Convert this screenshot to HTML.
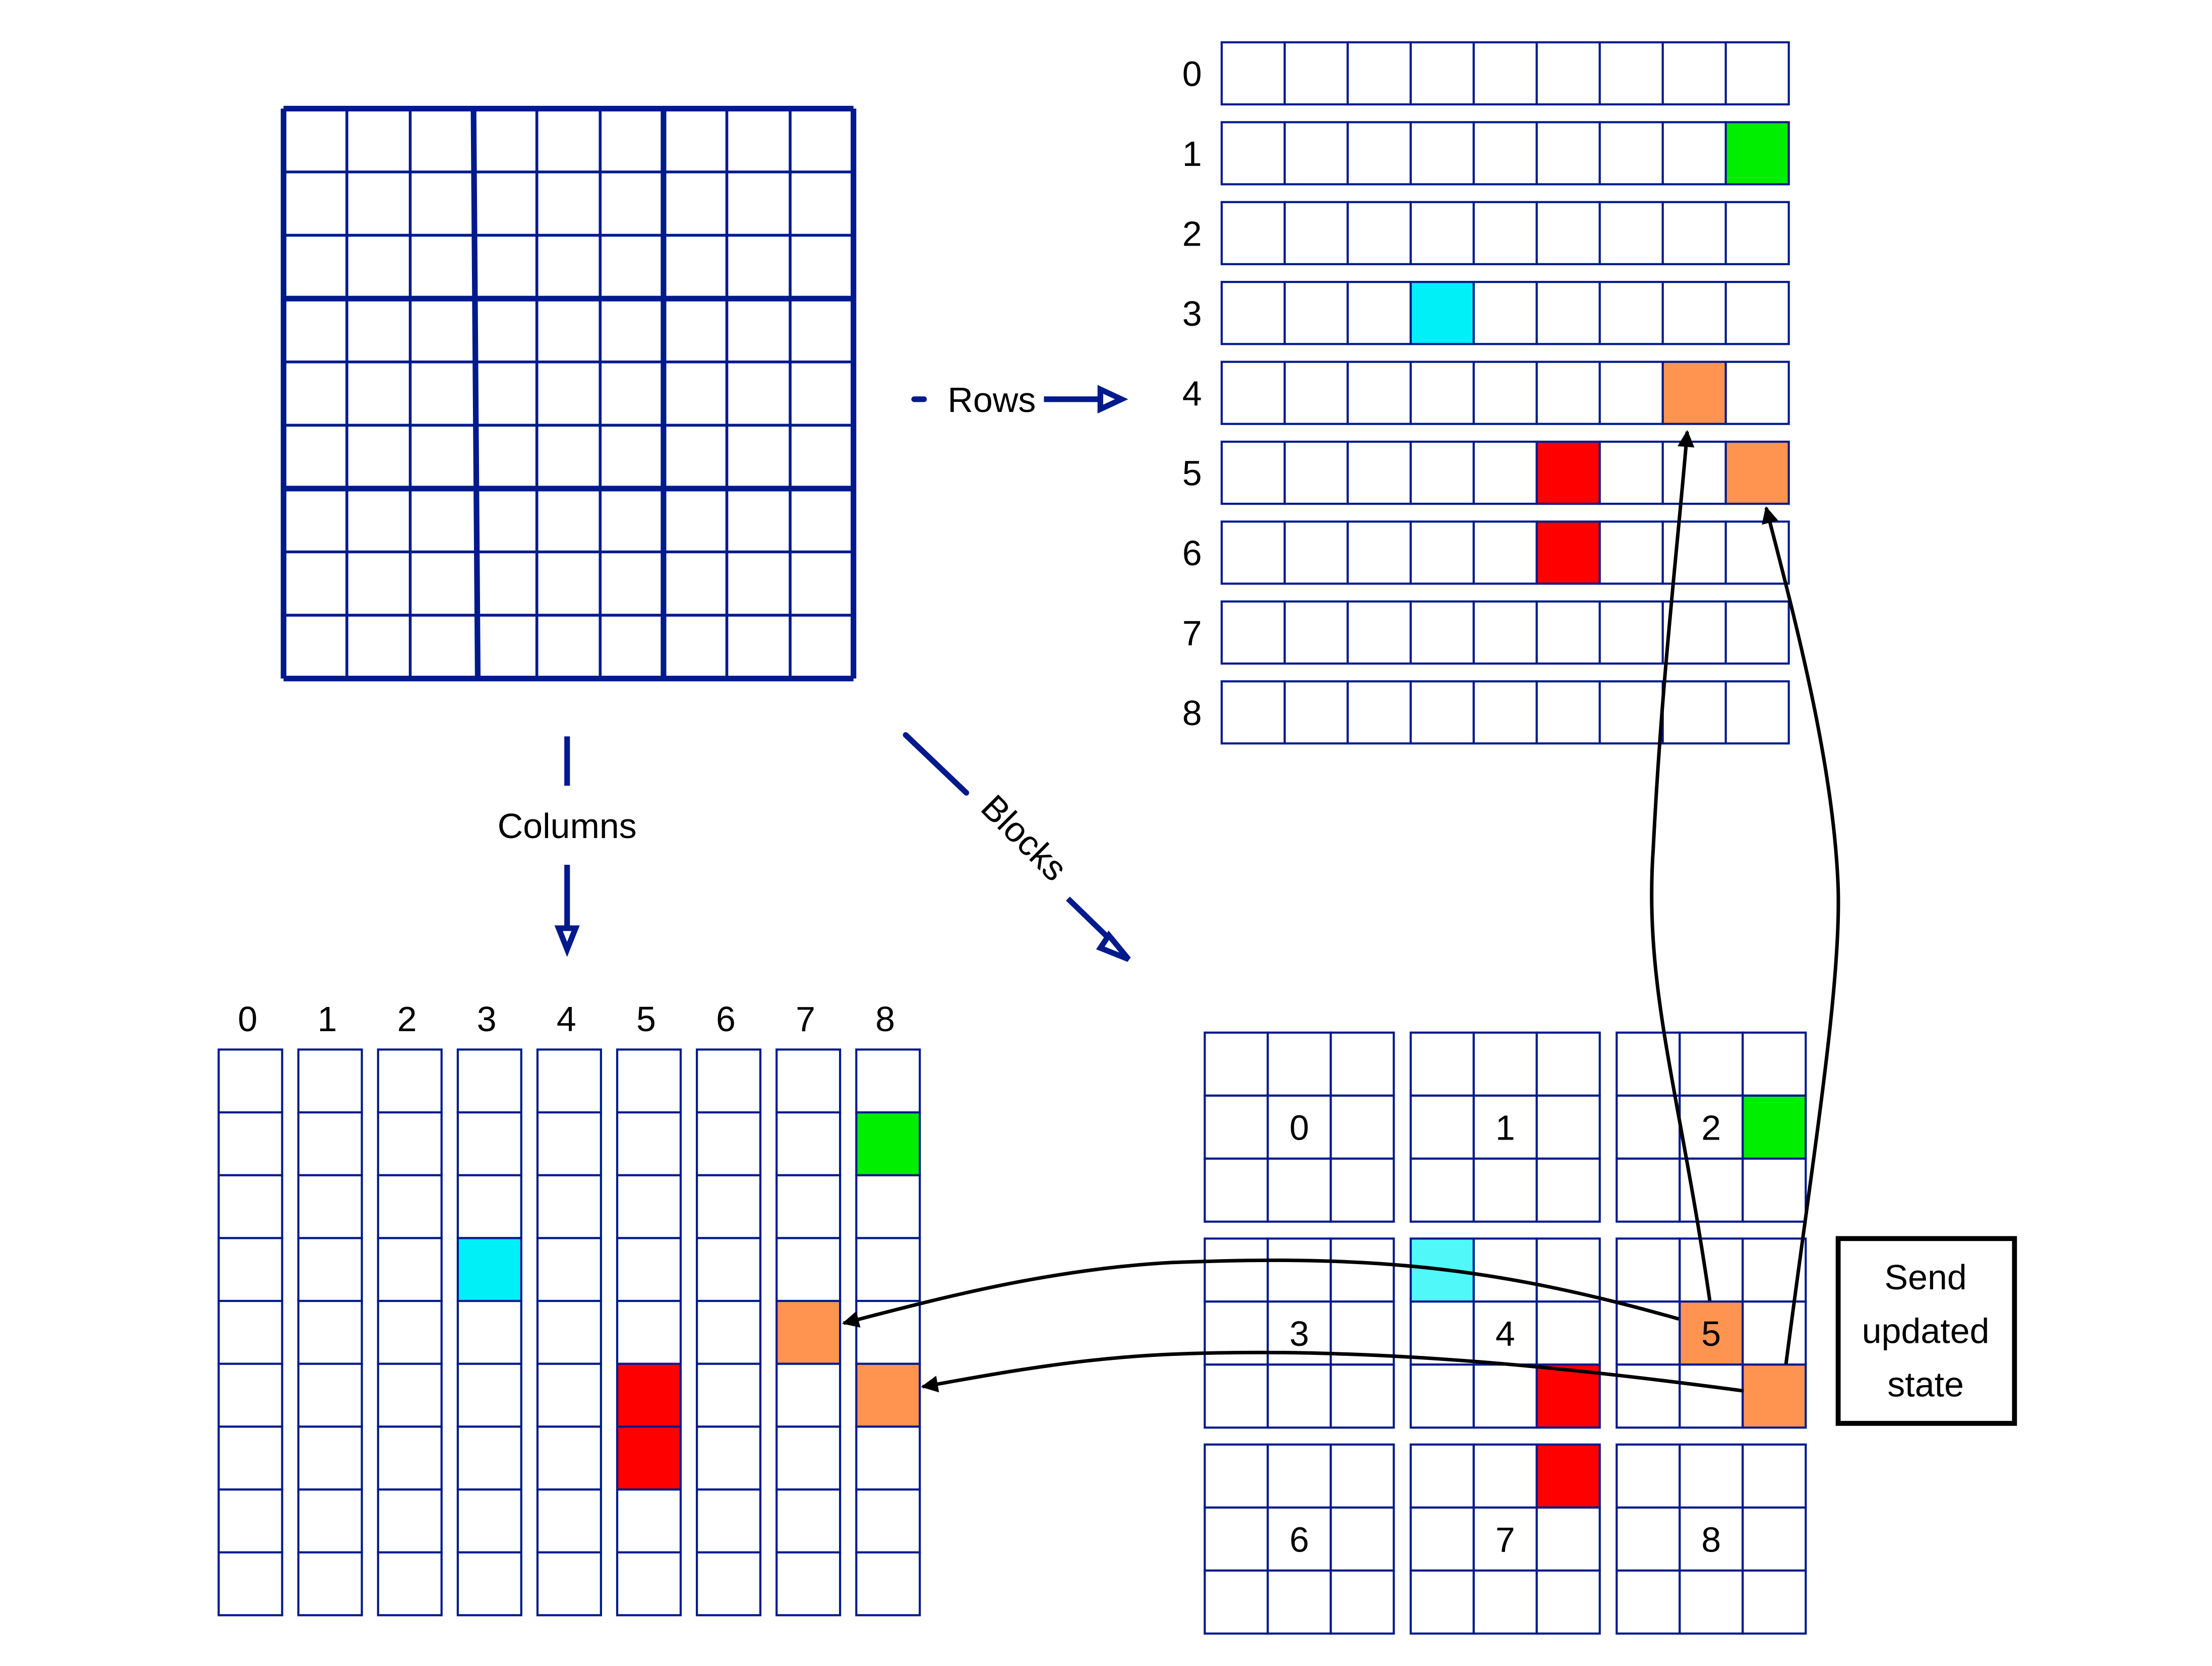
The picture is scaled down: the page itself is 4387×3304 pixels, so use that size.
<!DOCTYPE html>
<html><head><meta charset="utf-8">
<style>
html,body{margin:0;padding:0;background:#fff;}
svg{display:block;}
text{font-family:"Liberation Sans","DejaVu Sans",sans-serif;fill:#000;}
</style></head>
<body>
<svg id="fig" width="4387" height="3304" viewBox="0 0 1568 1181" preserveAspectRatio="none" xmlns="http://www.w3.org/2000/svg">
<defs>
<marker id="blackHead" viewBox="0 0 10 10" refX="9" refY="5" markerWidth="14" markerHeight="12" orient="auto" markerUnits="userSpaceOnUse">
<path d="M0,0 L10,5 L0,10 z" fill="#000"/>
</marker>
</defs>
<g id="sudoku"></g>
<g id="rowsPanel"></g>
<g id="colsPanel"></g>
<g id="blocksPanel"></g>

<g stroke="#001a8c" fill="none">
<line x1="648" y1="283" x2="655" y2="283" stroke-width="4" stroke-linecap="round"/>
<line x1="740" y1="283" x2="790" y2="283" stroke-width="4"/>
<path d="M780,276 L795,283 L780,290 Z" stroke-width="4" fill="#fff"/>
</g>
<text x="703" y="292" font-size="25" text-anchor="middle">Rows</text>

<g stroke="#001a8c" fill="none">
<line x1="402" y1="522" x2="402" y2="557" stroke-width="4"/>
<line x1="402" y1="613" x2="402" y2="662" stroke-width="4"/>
<path d="M396,658 L402,673 L408,658 Z" stroke-width="4" fill="#fff"/>
</g>
<text x="402" y="594" font-size="25" text-anchor="middle">Columns</text>

<g stroke="#001a8c" fill="none">
<line x1="642" y1="521" x2="685" y2="562" stroke-width="4" stroke-linecap="round"/>
<line x1="757" y1="637" x2="790" y2="669" stroke-width="4"/>
<path d="M786,663 L800,680 L780,672 Z" stroke-width="4" fill="#fff"/>
</g>
<text x="720" y="600" font-size="25" text-anchor="middle" transform="rotate(45 720 600)">Blocks</text>

<rect x="1303" y="878" width="125" height="131" fill="#fff" stroke="#000" stroke-width="3.5"/>
<text x="1365" y="914" font-size="25" text-anchor="middle">Send</text>
<text x="1365" y="952" font-size="25" text-anchor="middle">updated</text>
<text x="1365" y="990" font-size="25" text-anchor="middle">state</text>

<g id="curves" fill="none" stroke="#000" stroke-width="2.5">
<path d="M1212,922 C1190,770 1165,700 1172,600 C1178,480 1190,380 1196,306" marker-end="url(#blackHead)"/>
<path d="M1266,967 C1285,820 1305,700 1303,630 C1300,540 1270,430 1252,360" marker-end="url(#blackHead)"/>
<path d="M1190,935 C1050,895 960,890 830,895 C740,900 660,922 598,938" marker-end="url(#blackHead)"/>
<path d="M1236,986 C1080,965 950,955 830,960 C760,963 700,975 654,983" marker-end="url(#blackHead)"/>
</g>
</svg>
<script>
const NS="http://www.w3.org/2000/svg";
const blue="#001a8c";
const rowLabels=["0","1","2","3","4","5","6","7","8"];
const colLabels=["0","1","2","3","4","5","6","7","8"];
const blockLabels=["0","1","2","3","4","5","6","7","8"];
const greenCells=[[1,8]];
const cyanCells=[[3,3]];
const orangeCells=[[4,7],[5,8]];
const redCells=[[5,5],[6,5]];
const colorOf={green:"#00ee00",cyan:"#00f0f8",orange:"#ff9450",red:"#ff0000"};

function mk(tag,attrs,parent){const e=document.createElementNS(NS,tag);for(const k in attrs)e.setAttribute(k,attrs[k]);parent.appendChild(e);return e;}
function colorAt(r,c){
  const lists=[["green",greenCells],["cyan",cyanCells],["orange",orangeCells],["red",redCells]];
  for(const [n,l] of lists) for(const p of l) if(p[0]===r&&p[1]===c) return n;
  return null;
}

const sg=document.getElementById("sudoku");
const sx0=201,sy0=77,ss=(605-201)/9;
for(let i=0;i<=9;i++){
  const thick=i%3===0;
  const w=thick?4:2;
  const xt=sx0+i*ss, xb=(i===3)?xt+3:xt;
  let l=mk("line",{x1:xt,y1:sy0,x2:xb,y2:sy0+9*ss,stroke:blue,"stroke-width":w},sg);
  
  
  let h=mk("line",{x1:sx0,y1:sy0+i*ss,x2:sx0+9*ss,y2:sy0+i*ss,stroke:blue,"stroke-width":w},sg);
  
  
}

const rp=document.getElementById("rowsPanel");
const rx0=866,rcw=(1268-866)/9,rch=44,ry0=30,rstep=(483-30)/8;
rowLabels.forEach((lab,r)=>{
  const y=ry0+r*rstep;
  const t=mk("text",{x:845,y:y+rch/2+9,"font-size":25,"text-anchor":"middle"},rp);
  t.textContent=lab;
  
  
  for(let c=0;c<9;c++){
    const col=colorAt(r,c);
    const rc=mk("rect",{x:rx0+c*rcw,y:y,width:rcw,height:rch,fill:col?colorOf[col]:"#fff",stroke:blue,"stroke-width":1.5},rp);
    
    
  }
});

const cp=document.getElementById("colsPanel");
const cx0=155,ccw=45,cstep=(607-155)/8,cy0=744,cch=(1145-744)/9;
colLabels.forEach((lab,c)=>{
  const x=cx0+c*cstep;
  const t=mk("text",{x:x+ccw/2-2,y:731,"font-size":25,"text-anchor":"middle"},cp);
  t.textContent=lab;
  
  
  for(let r=0;r<9;r++){
    const col=colorAt(r,c);
    const rc=mk("rect",{x:x,y:cy0+r*cch,width:ccw,height:cch,fill:col?colorOf[col]:"#fff",stroke:blue,"stroke-width":1.5},cp);
    
    
  }
});

const bp=document.getElementById("blocksPanel");
const bx=[854,1000,1146],by=[732,878,1024],bcs=134/3;
blockLabels.forEach((lab,b)=>{
  const br=Math.floor(b/3),bc=b%3;
  for(let i=0;i<3;i++)for(let j=0;j<3;j++){
    const r=br*3+i,c=bc*3+j;
    let col=colorAt(r,c);
    let fill=col?colorOf[col]:"#fff";
    if(col==="cyan") fill="#50f8fa";
    const rc=mk("rect",{x:bx[bc]+j*bcs,y:by[br]+i*bcs,width:bcs,height:bcs,fill:fill,stroke:blue,"stroke-width":1.5},bp);
    
    
  }
  const t=mk("text",{x:bx[bc]+67,y:by[br]+67+9,"font-size":25,"text-anchor":"middle"},bp);
  t.textContent=lab;
  
  
});
</script>
</body></html>
